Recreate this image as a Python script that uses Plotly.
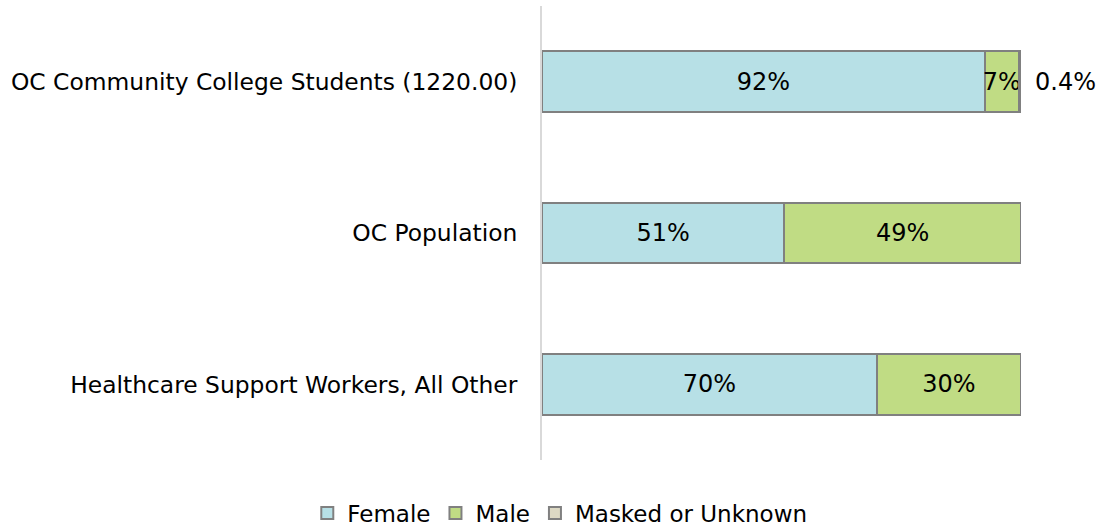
import plotly.graph_objects as go

categories = ["OC Community College Students (1220.00)", "OC Population", "Healthcare Support Workers, All Other"]
female = [92.4, 50.6, 69.9]
male = [7.2, 49.4, 30.1]
masked = [0.4, 0.0, 0.0]
female_labels = ["92%", "51%", "70%"]
male_labels = ["7%", "49%", "30%"]
masked_labels = ["0.4%", "", ""]

series = [
    ("Female", female, female_labels, "#B7E0E6"),
    ("Male", male, male_labels, "#C0DC84"),
    ("Masked or Unknown", masked, masked_labels, "#DDD9C4"),
]

FONT = "DejaVu Sans"
FS = 23.4
DS = 24
fig = go.Figure()
for name, vals, labels, color in series:
    is_masked = name == "Masked or Unknown"
    fig.add_trace(go.Bar(
        y=categories, x=vals, name=name, orientation="h",
        text=None if is_masked else labels, textposition="inside",
        insidetextanchor="middle",
        constraintext="none", textangle=0, cliponaxis=False,
        textfont=dict(family=FONT, size=DS, color="black"),
        marker=dict(color=color, line=dict(color="#808080", width=2)),
        width=0.4, hoverinfo="skip",
    ))

# outside labels for the masked segment, placed at the end of each stacked row
for cat, f, m, k, lab in zip(categories, female, male, masked, masked_labels):
    if lab:
        fig.add_annotation(x=round(f + m + k, 6), y=cat, xref="x", yref="y", text=lab,
                           showarrow=False, xanchor="left", xshift=12,
                           font=dict(family=FONT, size=DS, color="black"))

fig.update_layout(
    barmode="stack",
    width=1103, height=527,
    paper_bgcolor="white", plot_bgcolor="white",
    margin=dict(l=542, r=82, t=6, b=67, autoexpand=False),
    font=dict(family=FONT, size=FS, color="black"),
    showlegend=True,
    legend=dict(orientation="h", x=-0.49, xanchor="left",
                y=-0.117, yanchor="middle",
                font=dict(family=FONT, size=23, color="black"), traceorder="normal",
                itemwidth=30, itemsizing="constant"),
    xaxis=dict(range=[0, 100], showgrid=False, zeroline=False, showticklabels=False,
               showline=False, fixedrange=True),
    yaxis=dict(categoryorder="array", categoryarray=categories[::-1],
               range=[-0.5, 2.5], showgrid=False, zeroline=False,
               showline=True, linecolor="#D9D9D9", linewidth=2,
               ticks="", ticklabelstandoff=18, automargin=False, fixedrange=True,
               tickfont=dict(family=FONT, size=FS, color="black")),
)
fig.write_html("out.html", config={"displayModeBar": False},
               post_script="document.body.style.margin='0';document.body.style.overflow='hidden';")
